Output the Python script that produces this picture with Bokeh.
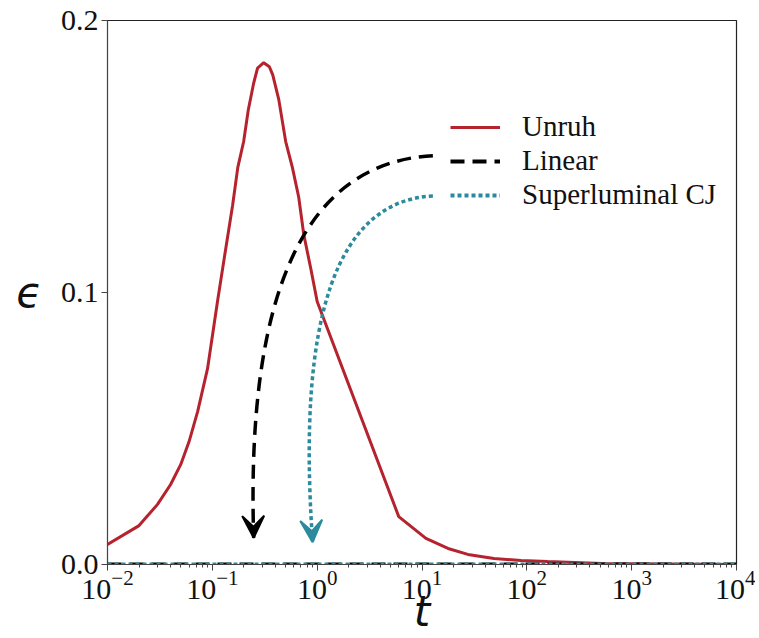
import numpy as np
from bokeh.plotting import figure
from bokeh.models import (Range1d, FixedTicker, PrintfTickFormatter, Legend, LegendItem,
                          Arrow, VeeHead)
from bokeh.embed import file_html
from bokeh.resources import INLINE

# ---- data ----
unruh_t = [0.01, 0.02, 0.03, 0.04, 0.05, 0.06, 0.0725, 0.09, 0.112, 0.131, 0.156, 0.175,
           0.199, 0.22, 0.248, 0.27, 0.309, 0.35, 0.377, 0.43, 0.501, 0.58, 0.667, 0.745,
           0.869, 1.0, 6.0, 10.9, 17.7, 27.4, 48.6, 88.0, 158.0, 515.0, 10000.0]
unruh_eps = [0.0074, 0.0143, 0.0221, 0.0294, 0.0368, 0.0452, 0.0563, 0.072, 0.0967, 0.1135,
             0.132, 0.146, 0.1555, 0.167, 0.177, 0.1825, 0.1845, 0.1830, 0.180, 0.171,
             0.1555, 0.146, 0.135, 0.1213, 0.1088, 0.0967, 0.0176, 0.0096, 0.0059, 0.0037,
             0.0022, 0.0015, 0.0011, 0.0004, 0.0]
linear_t = [0.01, 10000.0]
linear_eps = [0.0, 0.0]
cj_t = [0.01, 10000.0]
cj_eps = [0.0, 0.0]

# annotation arrows (start, control, end) in data coordinates
arrow_names = ["Linear", "Superluminal CJ"]
arrow_x0 = [12.7, 12.7]
arrow_y0 = [0.1503, 0.1355]
arrow_cx = [0.1926, 0.5356]
arrow_cy = [0.1466, 0.1328]
arrow_x1 = [0.248, 0.905]
arrow_y1 = [0.0098, 0.0082]

x_ticks = [1e-2, 1e-1, 1e0, 1e1, 1e2, 1e3, 1e4]
y_ticks = [0.0, 0.1, 0.2]

RED = "#b5232f"
TEAL = "#2b8a9c"
BLACK = "#000000"
SERIF = "Liberation Serif"

p = figure(width=755, height=638, x_axis_type="log", output_backend="svg",
           toolbar_location=None, x_range=Range1d(1e-2, 1e4), y_range=Range1d(0, 0.2),
           min_border_left=107, min_border_right=19, min_border_top=20, min_border_bottom=5)

p.xgrid.visible = False
p.ygrid.visible = False
p.outline_line_color = "#222222"
p.outline_line_width = 1.2

r_unruh = p.line(unruh_t, unruh_eps, line_color=RED, line_width=3)
r_lin = p.line(linear_t, linear_eps, line_color=BLACK, line_width=4, line_dash="14 8")
r_cj = p.line(cj_t, cj_eps, line_color=TEAL, line_width=4, line_dash="4 3")

styles = [(BLACK, "14 8"), (TEAL, "4 3")]
for i in range(2):
    col, dash = styles[i]
    p.quadratic(x0=[arrow_x0[i]], y0=[arrow_y0[i]], x1=[arrow_x1[i]], y1=[arrow_y1[i]],
                cx=[arrow_cx[i]], cy=[arrow_cy[i]], line_color=col, line_width=3.5,
                line_dash=dash)
    u = 0.97
    lx0, lcx, lx1 = np.log10(arrow_x0[i]), np.log10(arrow_cx[i]), np.log10(arrow_x1[i])
    lx = (1-u)**2*lx0 + 2*(1-u)*u*lcx + u**2*lx1
    ly = (1-u)**2*arrow_y0[i] + 2*(1-u)*u*arrow_cy[i] + u**2*arrow_y1[i]
    p.add_layout(Arrow(x_start=10**lx, y_start=ly, x_end=arrow_x1[i], y_end=arrow_y1[i],
                       line_alpha=0,
                       end=VeeHead(size=22, fill_color=col, fill_alpha=1.0,
                                   line_color=col, line_width=2)))

# axes
xa = p.xaxis[0]
xa.ticker = FixedTicker(ticks=x_ticks,
                        minor_ticks=[k * 10.0**n for n in range(-2, 4) for k in range(2, 10)])
ya = p.yaxis[0]
ya.ticker = FixedTicker(ticks=y_ticks)
ya.formatter = PrintfTickFormatter(format="%.1f")

for ax in (xa, ya):
    ax.major_label_text_font = SERIF
    ax.major_label_text_font_size = "30px"
    ax.major_label_text_color = "#111111"
    ax.major_tick_in = 0
    ax.major_tick_out = 6
    ax.minor_tick_in = 0
    ax.minor_tick_out = 3
    ax.axis_line_color = "#444444"
    ax.major_tick_line_color = "#444444"
    ax.minor_tick_line_color = "#444444"
    ax.axis_label_text_font = "DejaVu Sans"
    ax.axis_label_text_font_style = "italic"
    ax.axis_label_text_font_size = "42px"
    ax.axis_label_text_color = "#111111"
ya.minor_tick_out = 0
xa.major_label_standoff = 0
ya.major_label_standoff = 3
xa.axis_label = "t"
ya.axis_label = "\u03f5"
xa.axis_label_standoff = -15
ya.axis_label_standoff = 16
ya.axis_label_orientation = "horizontal"

legend = Legend(items=[LegendItem(label="Unruh", renderers=[r_unruh]),
                       LegendItem(label="Linear", renderers=[r_lin]),
                       LegendItem(label="Superluminal CJ", renderers=[r_cj])],
                location=(343, 353))
legend.border_line_color = None
legend.background_fill_alpha = 0
legend.label_text_font = SERIF
legend.label_text_font_size = "29px"
legend.label_text_color = "#111111"
legend.glyph_width = 50
legend.glyph_height = 30
legend.label_height = 30
legend.label_standoff = 22
legend.spacing = 1
legend.padding = 0
legend.margin = 0
p.add_layout(legend)

open("out.html", "w").write(file_html(p, INLINE))
